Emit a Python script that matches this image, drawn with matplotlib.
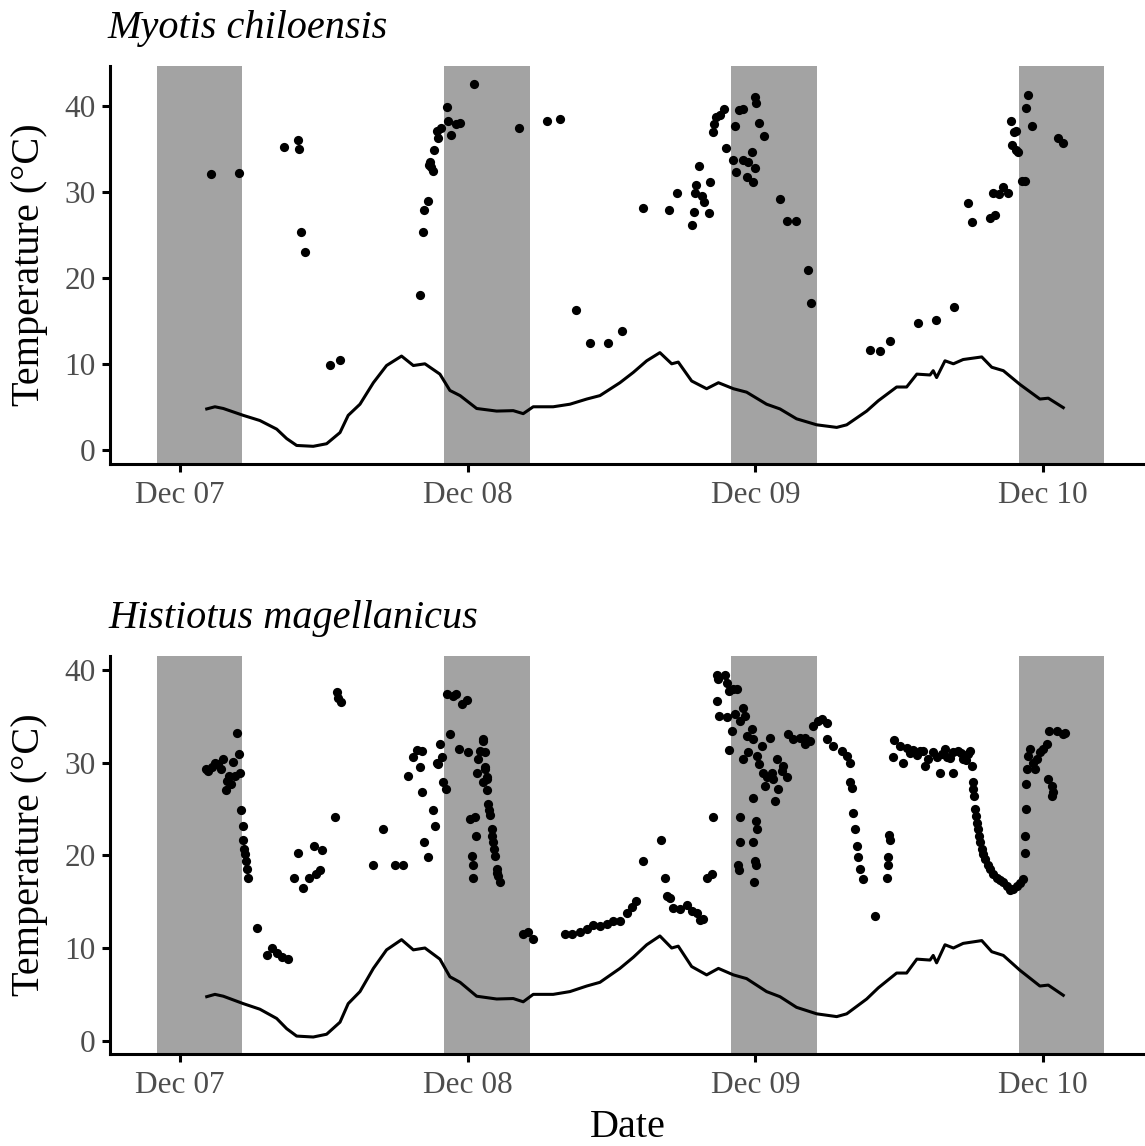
import numpy as np
import matplotlib
matplotlib.use("Agg")
import matplotlib.pyplot as plt
import matplotlib.dates as mdates

plt.rcParams['font.family'] = ['Liberation Serif', 'DejaVu Serif']

# time is given in hours after Dec 07 00:00
base = np.datetime64('2019-12-07T00:00')

night_start = [-1.9, 22.05, 46.0, 69.95]
night_end = [5.2, 29.2, 53.1, 77.1]

# ambient temperature (same logger for both species)
amb_h = [2.23, 2.92, 3.61, 5.28, 6.67, 8.07, 8.90, 9.74, 11.12, 12.24, 13.35, 14.04,
         15.02, 16.13, 17.24, 18.49, 19.46, 20.44, 21.69, 22.52, 23.36, 24.75, 26.42,
         27.80, 28.64, 29.47, 31.14, 32.53, 33.93, 35.04, 36.70, 37.81, 38.93, 40.04,
         41.02, 41.57, 42.69, 43.94, 44.91, 46.16, 47.27, 48.94, 50.05, 51.44, 53.11,
         54.78, 55.62, 57.28, 58.25, 59.79, 60.62, 61.46, 62.57, 62.84, 63.12, 63.82,
         64.51, 65.34, 66.88, 67.71, 68.68, 70.07, 71.74, 72.43, 73.69]
amb_t = [4.75, 5.0, 4.8, 4.0, 3.4, 2.4, 1.3, 0.5, 0.4, 0.7, 2.0, 4.0,
         5.3, 7.8, 9.8, 10.9, 9.8, 10.0, 8.8, 6.9, 6.3, 4.8, 4.5,
         4.55, 4.2, 5.0, 5.0, 5.3, 5.9, 6.3, 7.8, 9.0, 10.35, 11.3,
         10.0, 10.2, 8.0, 7.1, 7.8, 7.1, 6.7, 5.3, 4.75, 3.6, 2.9,
         2.6, 2.9, 4.5, 5.7, 7.3, 7.3, 8.8, 8.7, 9.2, 8.4, 10.35,
         10.0, 10.5, 10.8, 9.6, 9.2, 7.6, 5.9, 6.0, 4.9]

# Myotis chiloensis skin temperature
myo_h = [2.56, 4.95, 8.68, 9.87, 9.93, 10.09, 10.45, 12.54, 13.37, 20.05, 20.27, 20.38,
         20.66, 20.77, 20.88, 20.94, 21.11, 21.21, 21.41, 21.55, 21.77, 22.25, 22.38,
         22.61, 23.02, 23.36, 24.55, 28.25, 30.59, 31.70, 33.01, 34.20, 35.70, 36.87,
         38.60, 40.77, 41.49, 42.71, 42.85, 42.96, 43.04, 43.27, 43.52, 43.74, 44.13,
         44.24, 44.49, 44.55, 44.71, 45.05, 45.38, 45.57, 46.16, 46.27, 46.38, 46.61,
         46.97, 46.99, 47.27, 47.41, 47.69, 47.83, 47.97, 47.99, 48.07, 48.33, 48.69,
         50.03, 50.64, 51.39, 52.36, 52.61, 57.56, 58.39, 59.23, 61.59, 63.07, 64.57,
         65.73, 66.07, 67.57, 68.01, 67.79, 68.32, 68.68, 69.10, 69.32, 69.55, 69.71,
         69.43, 69.88, 69.76, 70.21, 70.49, 70.57, 70.71, 71.07, 73.27, 73.69]
myo_t = [32.1, 32.2, 35.2, 36.0, 35.0, 25.3, 23.0, 9.9, 10.5, 18.0, 25.3, 27.9,
         29.0, 33.1, 33.5, 32.9, 32.4, 34.9, 37.1, 36.3, 37.4, 39.9, 38.2,
         36.6, 37.9, 38.0, 42.5, 37.4, 38.3, 38.5, 16.3, 12.4, 12.4, 13.8,
         28.1, 27.9, 29.9, 26.1, 27.7, 29.9, 30.8, 33.0, 29.5, 28.8, 27.5,
         31.1, 37.0, 37.9, 38.7, 38.9, 39.6, 35.1, 33.7, 37.7, 32.3, 39.5,
         39.7, 33.7, 31.7, 33.5, 34.7, 31.2, 32.8, 41.1, 40.3, 38.0, 36.5,
         29.2, 26.6, 26.6, 20.9, 17.1, 11.6, 11.5, 12.7, 14.75, 15.1, 16.6,
         28.7, 26.5, 27.0, 27.3, 29.9, 29.7, 30.6, 29.9, 38.3, 37.0, 37.1,
         35.5, 34.7, 34.9, 31.3, 31.3, 39.8, 41.25, 37.7, 36.3, 35.7]

# Histiotus magellanicus skin temperature
his_h = [2.17, 2.36, 2.64, 2.92, 3.19, 3.40, 3.61, 3.81, 3.95, 4.11, 4.25, 4.45, 4.59,
         4.78, 4.90, 5.01, 5.11, 5.23, 5.28, 5.36, 5.42, 5.48, 5.56, 5.70, 6.40, 7.23,
         7.65, 8.07, 8.48, 9.03, 9.53, 9.87, 10.29, 10.79, 11.20, 11.35, 11.68, 11.82,
         12.93, 13.07, 13.21, 13.41, 16.07, 16.91, 17.94, 18.63, 19.04, 19.46, 19.75,
         20.16, 20.02, 20.21, 20.35, 20.71, 21.13, 21.27, 21.41, 21.55, 21.69, 21.83,
         21.96, 22.19, 22.30, 22.52, 22.75, 23.02, 23.27, 23.55, 23.92, 24.05, 24.19,
         24.33, 24.47, 24.42, 24.61, 24.67, 24.75, 24.88, 25.03, 25.25, 25.30, 25.30,
         25.44, 25.44, 25.44, 25.58, 25.58, 25.63, 25.72, 25.78, 25.86, 26.00, 26.07,
         26.14, 26.19, 26.28, 26.42, 26.48, 26.56, 26.69,
         28.64, 29.05, 29.47, 32.12, 32.68, 33.37, 33.93, 34.48, 35.04, 35.60, 36.15,
         36.70, 37.26, 37.68, 38.04, 38.60, 40.13, 40.46, 40.60, 40.88, 41.15, 41.71,
         42.27, 42.69, 43.10, 43.38, 43.65, 43.99, 44.35, 44.49,
         44.77, 45.46, 44.91, 44.77, 44.99, 45.61, 45.82, 46.16, 46.44, 45.61, 45.82,
         46.02, 46.30, 46.72, 46.99, 47.13, 46.99, 47.27, 47.41, 47.69, 47.83, 48.11,
         48.33, 48.53, 48.66, 48.80, 48.94, 49.22, 49.36, 49.49, 49.63, 49.78, 49.91,
         50.19, 50.33, 50.61, 47.77, 46.72, 46.72, 46.57, 46.65, 47.83, 48.05, 48.11,
         47.97, 48.05, 47.88,
         50.74, 51.16, 51.72, 52.14, 52.14, 52.55, 52.83, 53.25, 53.53, 53.95, 53.95,
         54.50, 55.20, 55.62, 55.89, 55.89, 56.03, 56.17, 56.31, 56.45, 56.58, 56.73,
         57.00, 57.98, 58.95, 59.09, 59.09, 59.23, 59.17,
         59.59, 59.45, 60.06, 60.34, 60.62, 60.90, 61.17, 61.46, 61.73, 61.98, 62.15,
         62.42, 62.84, 63.12, 63.40, 63.54, 63.82, 63.96, 64.23, 64.51, 64.51, 64.93,
         65.15, 65.34, 65.56, 65.76, 65.90,
         66.04, 66.13, 66.18, 66.24, 66.32, 66.39, 66.46, 66.56, 66.65, 66.76, 66.88,
         67.01, 67.15, 67.36, 67.57, 67.85, 68.13, 68.40, 68.68, 68.96, 69.24, 69.52,
         69.80, 70.05, 70.30,
         70.49, 70.49, 70.57, 70.57, 70.63, 70.77, 70.91, 71.18, 71.34, 71.47, 71.74,
         72.02, 72.30, 72.52, 73.13, 73.69, 73.85, 72.43, 72.72, 72.85, 72.72]
his_t = [29.3, 29.1, 29.5, 30.0, 29.8, 29.3, 30.4, 27.0, 28.0, 28.6, 27.7, 30.1, 28.6,
         33.2, 30.9, 28.9, 24.9, 23.2, 21.7, 20.7, 20.1, 19.4, 18.5, 17.5, 12.15, 9.2,
         10.0, 9.5, 9.0, 8.8, 17.5, 20.2, 16.5, 17.5, 21.0, 18.0, 18.4, 20.6,
         24.1, 37.6, 37.0, 36.5, 18.9, 22.8, 18.9, 18.9, 28.5, 30.6, 31.4,
         31.3, 29.5, 26.8, 21.4, 19.8, 24.9, 23.2, 30.0, 29.8, 32.0, 30.6,
         27.9, 27.1, 37.4, 33.1, 37.2, 37.4, 31.5, 36.3, 36.8, 31.1, 23.9,
         19.9, 18.9, 17.5, 24.1, 22.1, 28.9, 30.4, 31.3, 32.5, 27.9, 32.3,
         29.5, 31.1, 29.3, 28.4, 28.2, 27.0, 25.5, 24.9, 24.3, 22.8, 22.1,
         21.4, 20.7, 19.9, 18.5, 18.1, 17.8, 17.1,
         11.5, 11.75, 11.0, 11.5, 11.5, 11.7, 12.0, 12.5, 12.4, 12.6, 12.9,
         12.9, 13.8, 14.4, 15.1, 19.4, 21.7, 17.5, 15.6, 15.4, 14.3, 14.2,
         14.6, 14.0, 13.8, 13.0, 13.1, 17.5, 18.0, 24.1,
         39.5, 39.5, 39.0, 36.6, 35.0, 38.6, 37.7, 37.9, 37.9, 34.9, 31.4,
         33.4, 35.2, 34.5, 35.9, 35.0, 30.4, 32.9, 31.1, 33.6, 32.5, 30.7,
         29.8, 31.8, 28.9, 27.5, 28.4, 32.7, 28.9, 28.2, 25.9, 30.4, 27.1,
         29.1, 29.6, 28.4, 26.2, 24.1, 21.4, 18.9, 18.4, 21.4, 23.7, 22.8,
         19.4, 18.9, 17.1,
         33.1, 32.5, 32.6, 32.0, 32.7, 32.3, 34.0, 34.5, 34.7, 34.3, 32.5,
         31.8, 31.3, 30.7, 30.0, 27.9, 27.3, 24.6, 22.8, 21.0, 19.8, 18.5,
         17.4, 13.5, 17.5, 18.9, 19.8, 21.7, 22.2,
         32.4, 30.6, 31.8, 30.0, 31.6, 31.0, 31.4, 30.8, 31.3, 31.2, 29.6,
         30.4, 31.1, 30.6, 28.9, 30.9, 31.5, 30.6, 30.5, 28.9, 31.1, 31.3,
         31.0, 30.4, 30.3, 30.9, 31.2,
         29.6, 27.9, 27.2, 26.4, 25.0, 24.2, 23.5, 22.8, 22.1, 21.4, 20.7,
         20.1, 19.6, 19.0, 18.5, 18.0, 17.6, 17.3, 17.1, 16.7, 16.3, 16.4,
         16.7, 17.0, 17.4,
         20.3, 22.1, 25.0, 27.7, 29.3, 30.7, 31.5, 30.0, 29.3, 30.4, 31.1,
         31.5, 32.0, 33.4, 33.4, 33.1, 33.2, 28.2, 27.5, 26.8, 26.4]


def to_time(hours):
    minutes = np.round(np.asarray(hours) * 60).astype(int)
    return base + minutes.astype('timedelta64[m]')


fig = plt.figure(figsize=(11.45, 11.46), dpi=100)
ax1 = fig.add_axes([0.0961, 0.5951, 0.9039, 0.3473])
ax2 = fig.add_axes([0.0961, 0.0803, 0.9039, 0.3473])

panels = [(ax1, 'Myotis chiloensis', myo_h, myo_t, (-1.66, 44.65)),
          (ax2, 'Histiotus magellanicus', his_h, his_t, (-1.43, 41.5))]

for ax, name, hh, tt, ylim in panels:
    for s, e in zip(night_start, night_end):
        ax.axvspan(to_time(s), to_time(e), color='#a3a3a3', lw=0, zorder=0)
    ax.scatter(to_time(hh), tt, s=44, color='black', linewidths=0, zorder=2)
    ax.plot(to_time(amb_h), amb_t, color='black', lw=2.2, zorder=3)

    ax.set_xlim(to_time(-5.84), to_time(80.5))
    ax.set_ylim(*ylim)
    ax.set_yticks([0, 10, 20, 30, 40])
    ax.xaxis.set_major_locator(mdates.DayLocator())
    ax.xaxis.set_major_formatter(mdates.DateFormatter('%b %d'))

    for side in ['top', 'right']:
        ax.spines[side].set_visible(False)
    for side in ['left', 'bottom']:
        ax.spines[side].set_linewidth(2.2)
    ax.tick_params(width=2.2, length=5.5, labelsize=22.5, labelcolor='#4d4d4d', pad=5)
    ax.tick_params(axis='x', pad=7)

    ax.set_title(name, loc='left', fontsize=29, style='italic', pad=20, x=-0.002)
    ax.set_ylabel('Temperature (°C)', fontsize=29)
    ax.yaxis.set_label_coords(-0.06, 0.5)

ax2.set_xlabel('Date', fontsize=29, labelpad=6)

fig.savefig('out.png', dpi=100)
